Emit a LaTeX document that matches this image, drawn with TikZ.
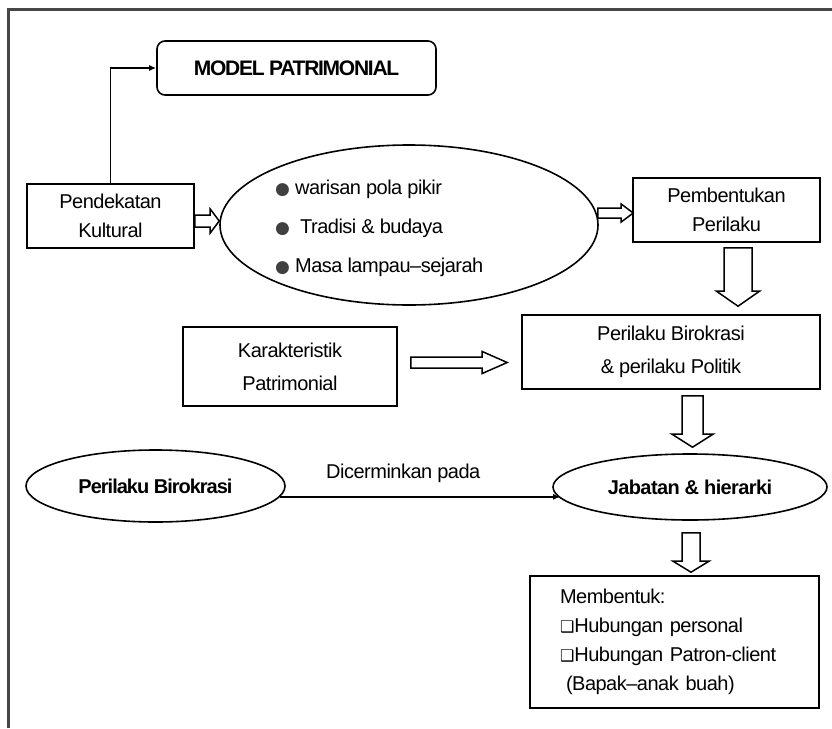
\documentclass[tikz,border=0pt]{standalone}
\usepackage{fontspec}
\setmainfont{Liberation Sans}[LetterSpace=-2.5]
\newfontfamily\symfont{DejaVu Sans}
\usetikzlibrary{shapes.geometric,arrows.meta,calc}

\newcommand{\txt}{\fontsize{20}{29}\selectfont}
\newcommand{\txtwide}{\fontsize{20}{33}\selectfont}
\newcommand{\bul}{{\symfont\fontsize{17}{17}\selectfont\textcolor{darkgray}{●}}}
\newcommand{\chk}{{\symfont\fontsize{16}{16}\selectfont ❑}}

% hollow block arrow pointing right, from #1 to #2 (shaft half-width #3, head half-width #4, head length #5)
\newcommand{\rightfat}[5]{%
  \draw[fat] let \p1=(#1), \p2=(#2) in
    (\x1,\y1+#3) -- (\x2-#5,\y1+#3) -- (\x2-#5,\y1+#4) -- (\x2,\y1)
    -- (\x2-#5,\y1-#4) -- (\x2-#5,\y1-#3) -- (\x1,\y1-#3) -- cycle;}
% hollow block arrow pointing down, from #1 to #2
\newcommand{\downfat}[5]{%
  \draw[fat] let \p1=(#1), \p2=(#2) in
    (\x1-#3,\y1) -- (\x1-#3,\y2+#5) -- (\x1-#4,\y2+#5) -- (\x1,\y2)
    -- (\x1+#4,\y2+#5) -- (\x1+#3,\y2+#5) -- (\x1+#3,\y1) -- cycle;}

\tikzset{
  box/.style={draw, line width=1.6pt, rectangle, inner sep=0pt, align=center, font=\txt},
  oval/.style={draw, line width=1.6pt, ellipse, inner sep=0pt, align=center, font=\txt},
  fat/.style={draw, line width=1.5pt, fill=white, line join=miter},
  link/.style={draw, line width=1.6pt, -{Latex[length=7pt,width=6pt]}},
  frame/.style={draw=gray!55!black, line width=3pt}
}

\begin{document}
\begin{tikzpicture}[x=1pt,y=-1pt]
\useasboundingbox (0,0) rectangle (832,728);
\fill[white] (0,0) rectangle (832,728);
\draw[frame] (8,728) -- (8,9) -- (832,9);

% top row
\node[box, rounded corners=8pt, minimum width=279pt, minimum height=54pt] (md) at (296.5,68)
  {\fontsize{21}{25}\selectfont\bfseries\addfontfeatures{LetterSpace=-6}MODEL PATRIMONIAL};
\node[box, minimum width=167pt, minimum height=64pt] (pk) at (110.5,216)
  {Pendekatan\\Kultural};
\node[oval, minimum width=378pt, minimum height=160pt] (ell) at (409,225) {};
\node[anchor=west, align=left, inner sep=0pt, font=\fontsize{20}{39}\selectfont] (lst) at (275,228)
  {\bul{} warisan pola pikir\\\bul{}\ \ Tradisi \& budaya\\\bul{} Masa lampau–sejarah};
\node[box, minimum width=187pt, minimum height=64pt] (pm) at (726.5,210)
  {Pembentukan\\Perilaku};

% middle row
\node[box, font=\txtwide, minimum width=214pt, minimum height=79pt] (kr) at (290,366.5)
  {Karakteristik\\Patrimonial};
\node[box, font=\txtwide, minimum width=298pt, minimum height=74pt] (pr) at (671,352)
  {Perilaku Birokrasi\\\& perilaku Politik};

% lower row
\node[oval, minimum width=259pt, minimum height=72pt] (pb) at (155.5,486)
  {\bfseries\addfontfeatures{LetterSpace=-5}Perilaku Birokrasi};
\node[oval, minimum width=274pt, minimum height=66pt] (jab) at (690,487)
  {\bfseries\addfontfeatures{LetterSpace=-3}Jabatan \& hierarki};
\node[box, minimum width=289pt, minimum height=132pt, text width=229pt, align=left] (mb) at (674.5,642)
  {Membentuk:\\\chk Hubungan personal\\\chk Hubungan Patron-client\\\hspace*{6pt}(Bapak–anak buah)};

% connectors
\draw[link] (pk.north) |- (md.west);
\rightfat{$(pk.east)+(0,5)$}{$(ell.west |- pk.east)+(0,5)$}{6pt}{12pt}{9pt}
\rightfat{$(ell.east |- pm.west)+(-1,3)$}{$(pm.west)+(1,3)$}{5pt}{9pt}{12pt}
\rightfat{$(kr.east)+(13,-4)$}{$(pr.west |- kr.east)+(-14,-4)$}{5.5pt}{11pt}{25pt}
\downfat{$(pm.south)+(11.5,5)$}{$(pm.south |- pr.north)+(11.5,-8)$}{14pt}{21.5pt}{15pt}
\downfat{$(pr.south)+(21.5,6)$}{$(pr.south |- jab.north)+(21.5,-6)$}{10.5pt}{20.5pt}{13pt}
\downfat{$(jab.south)+(1,12)$}{$(jab.south |- mb.north)+(1,-3)$}{9pt}{18pt}{11pt}
\draw[link] (pb.-5.6) -- node[pos=0.44, above=13pt, font=\txt, inner sep=0pt] (lbl) {Dicerminkan pada} (jab.185 |- pb.-5.6);
\end{tikzpicture}
\end{document}
